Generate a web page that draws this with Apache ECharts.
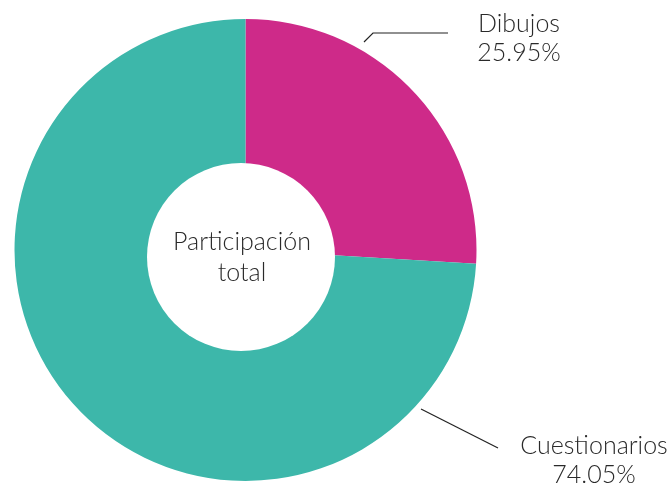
<!DOCTYPE html>
<html>
<head>
<meta charset="utf-8">
<script src="https://cdn.jsdelivr.net/npm/echarts@6/dist/echarts.min.js"></script>
<style>
  html, body { margin: 0; padding: 0; background: #fff; }
  #chart { width: 671px; height: 483px; }
</style>
</head>
<body>
<div id="chart"></div>
<script>
var categories = ['Dibujos', 'Cuestionarios']
var values = [25.95, 74.05]
var colors = ['#CE2A89', '#3DB7AA']
var centerText = 'Participación\ntotal'

// where each label sits, and its leader line
var labelSpots = [
	{x: 519, y: 38, line: [[364, 42], [373, 33], [448, 33]]},
	{x: 594, y: 460, line: [[421, 409], [498, 448]]}
]

var font = 'Lato, "Open Sans", sans-serif'

var chart = echarts.init(document.getElementById('chart'))

var data = categories.map(function (name, i) {
	return {name: name, value: values[i], itemStyle: {color: colors[i]}}
})

chart.setOption({
	animation: false,
	series: [{
		type: 'pie',
		center: [245.5, 250],
		radius: [80, 231],
		startAngle: 90,
		clockwise: true,
		silent: true,
		data: data,
		label: {
			show: true,
			formatter: '{b}\n{d}%',
			color: '#2a2a2a',
			fontFamily: font,
			fontWeight: 300,
			fontSize: 25,
			lineHeight: 29,
			overflow: 'none',
			width: 300
		},
		labelLine: {show: false},
		labelLayout: function (p) {
			var s = labelSpots[p.dataIndex]
			return {x: s.x, y: s.y, align: 'center', verticalAlign: 'middle'}
		}
	}],
	graphic: [
		{
			type: 'circle',
			z: 100,
			shape: {cx: 241, cy: 257, r: 94},
			style: {fill: '#fff'}
		},
		{
			type: 'text',
			z: 101,
			x: 242,
			y: 257,
			style: {
				text: centerText,
				fill: '#2a2a2a',
				font: '300 25px ' + font,
				lineHeight: 31,
				align: 'center',
				verticalAlign: 'middle'
			}
		}
	].concat(labelSpots.map(function (s) {
		return {
			type: 'polyline',
			z: 100,
			shape: {points: s.line},
			style: {stroke: '#222', lineWidth: 1.2, fill: null}
		}
	}))
})
</script>
</body>
</html>
